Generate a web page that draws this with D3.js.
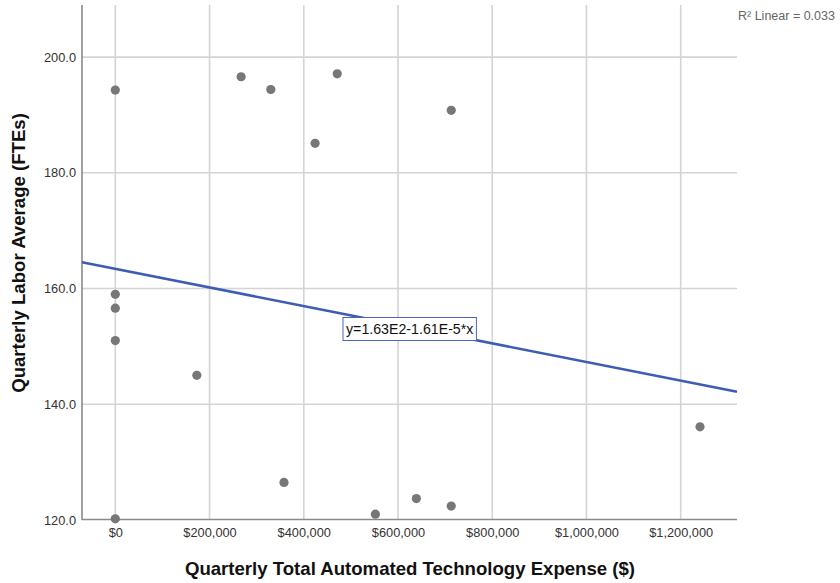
<!DOCTYPE html>
<html>
<head>
<meta charset="utf-8">
<script src="https://cdn.jsdelivr.net/npm/d3@7"></script>
<style>
  html, body { margin: 0; padding: 0; background: #fff; }
  svg { display: block; font-family: Arial, "Liberation Sans", sans-serif; }
</style>
</head>
<body>
<svg id="chart" width="840" height="583"></svg>
<script>
// Quarterly automated technology expense ($) vs. quarterly labor average (FTEs)
const expense = [0, 0, 0, 0, 0, 173000, 267000, 330000, 358000, 424000, 471000, 552000, 639000, 713000, 713000, 1241000];
const labor   = [194.3, 159.0, 156.6, 151.0, 120.2, 145.0, 196.6, 194.4, 126.5, 185.1, 197.1, 121.0, 123.7, 122.4, 190.8, 136.1];

const xTicks = [0, 200000, 400000, 600000, 800000, 1000000, 1200000];
const yTicks = [120, 140, 160, 180, 200];

// Linear fit
const intercept = 163.4;
const slope = -1.61e-5;
const rSquared = 0.033;

const xDomain = [-70700, 1319500];
const yDomain = [120, 209];

(function draw() {
  const svg = d3.select("#chart");
  const plotL = 82, plotR = 737, plotT = 5, plotB = 520;

  const x = d3.scaleLinear().domain(xDomain).range([plotL, plotR]);
  const y = d3.scaleLinear().domain(yDomain).range([plotB, plotT]);

  const fmtMoney = d => "$" + d3.format(",")(d);
  const fmtY = d3.format(".1f");
  const sci = v => {
    const [m, e] = v.toExponential(2).split("e");
    return m + "E" + (+e);
  };

  // grid lines
  svg.append("g").selectAll("line").data(xTicks).join("line")
    .attr("x1", d => x(d)).attr("x2", d => x(d))
    .attr("y1", plotT).attr("y2", plotB)
    .attr("stroke", "#d4d4d4").attr("stroke-width", 1.6);

  svg.append("g").selectAll("line").data(yTicks.filter(d => d > 120)).join("line")
    .attr("x1", plotL).attr("x2", plotR)
    .attr("y1", d => y(d)).attr("y2", d => y(d))
    .attr("stroke", "#d4d4d4").attr("stroke-width", 1.6);

  // axes
  const xAxis = svg.append("g")
    .attr("transform", `translate(0,${plotB - 0.5})`)
    .call(d3.axisBottom(x).tickValues(xTicks).tickFormat(fmtMoney).tickSize(0).tickPadding(8));
  const yAxis = svg.append("g")
    .attr("transform", `translate(${plotL},0)`)
    .call(d3.axisLeft(y).tickValues(yTicks).tickFormat(fmtY).tickSize(0).tickPadding(6));

  [xAxis, yAxis].forEach(g => {
    g.select(".domain").attr("stroke", "#8a8a8a").attr("stroke-width", 1.6);
    g.selectAll("text").attr("fill", "#333").style("font-size", "12.8px")
      .style("font-family", "Arial, 'Liberation Sans', sans-serif");
  });
  xAxis.select(".domain").attr("d", `M${plotL},0H${plotR}`);
  yAxis.select(".domain").attr("d", `M0,${plotT}V${plotB}`);

  // fit line across the full x range
  svg.append("line")
    .attr("x1", x(xDomain[0])).attr("y1", y(intercept + slope * xDomain[0]))
    .attr("x2", x(xDomain[1])).attr("y2", y(intercept + slope * xDomain[1]))
    .attr("stroke", "#3f5cb3").attr("stroke-width", 2.6);

  // points
  svg.append("g").selectAll("circle").data(expense.map((e, i) => [e, labor[i]])).join("circle")
    .attr("cx", d => x(d[0])).attr("cy", d => y(d[1]))
    .attr("r", 4.6).attr("fill", "#777");

  // equation label
  const eqG = svg.append("g");
  const eqText = eqG.append("text")
    .attr("x", 346).attr("y", 334)
    .style("font-size", "14.2px").attr("fill", "#111")
    .text(`y=${sci(intercept)}${sci(slope)}*x`);
  const bb = eqText.node().getBBox();
  eqG.insert("rect", "text")
    .attr("x", 343).attr("y", 317.5)
    .attr("width", bb.width + 6).attr("height", 23)
    .attr("fill", "#fff").attr("stroke", "#4a64b8").attr("stroke-width", 1);

  // R² annotation
  svg.append("text")
    .attr("x", 738).attr("y", 20)
    .style("font-size", "12.5px").attr("fill", "#666")
    .text(`R² Linear = ${rSquared}`);

  // axis titles
  svg.append("text")
    .attr("x", 410).attr("y", 575)
    .attr("text-anchor", "middle")
    .style("font-size", "18.6px").style("font-weight", "bold").attr("fill", "#111")
    .text("Quarterly Total Automated Technology Expense ($)");

  svg.append("text")
    .attr("transform", "translate(25,253) rotate(-90)")
    .attr("text-anchor", "middle")
    .style("font-size", "18.6px").style("font-weight", "bold").attr("fill", "#111")
    .text("Quarterly Labor Average (FTEs)");
})();
</script>
</body>
</html>
